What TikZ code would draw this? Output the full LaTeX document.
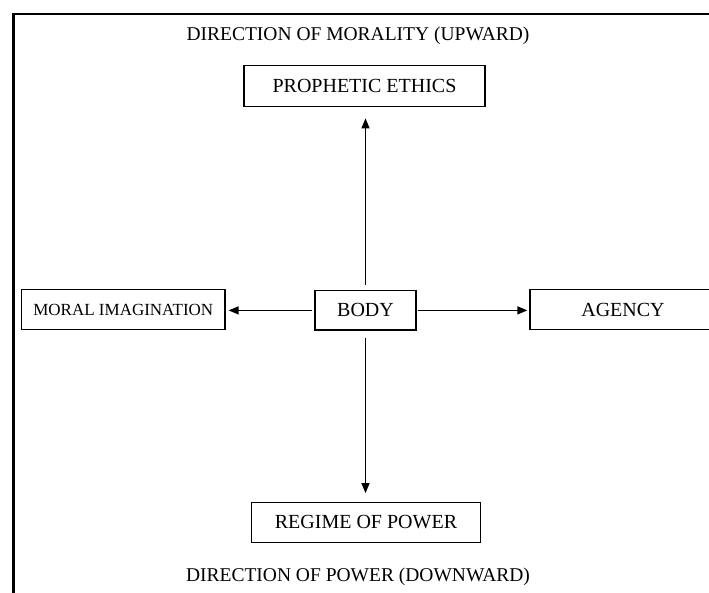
\documentclass[tikz,border=0pt]{standalone}
\usepackage{fontspec}
\setmainfont{Liberation Serif}
\usetikzlibrary{arrows.meta}
\begin{document}
\begin{tikzpicture}[x=1pt,y=1pt,
  box/.style={draw=black, line width=1.3pt, inner sep=0pt, minimum height=39.5pt,
    font=\fontsize{20}{24}\selectfont},
  title/.style={inner sep=0pt, font=\fontsize{19.5}{24}\selectfont},
  conn/.style={line width=1.3pt, -{Triangle[length=10pt,width=8pt]}}]
\useasboundingbox (0,0) rectangle (709,592);
\fill[white] (0,0) rectangle (709,592);
\clip (0,0) rectangle (709,592);
% open frame (left and top edges visible)
\draw[line width=2.2pt] (13.5,-5) -- (13.5,578) -- (720,578);
% titles
\node[title] (ttop) at (358,556) {DIRECTION OF MORALITY (UPWARD)};
\node[title] (tbot) at (358,15) {DIRECTION OF POWER (DOWNWARD)};
% boxes
\node[box, minimum width=241pt, minimum height=41pt] (proph) at (364.5,505.8) {PROPHETIC ETHICS};
\node[box, minimum width=101pt] (body) at (365.5,281.6) {BODY};
\node[box, minimum width=203.3pt, font=\fontsize{17}{20}\selectfont] (moral) at (123.3,282.5) {MORAL IMAGINATION};
\node[box, minimum width=186pt] (agency) at (623,282.5) {AGENCY};
\node[box, minimum width=228.5pt] (regime) at (366,69.5) {REGIME OF POWER};
% connectors
\draw[conn, shorten <=5pt, shorten >=11pt] (body.north) -- (body.north |- proph.south);
\draw[conn, shorten <=7pt, shorten >=9pt] (body.south) -- (body.south |- regime.north);
\draw[conn, shorten <=2pt, shorten >=3pt] (body.west) -- (moral.east |- body.west);
\draw[conn, shorten <=1pt, shorten >=2pt] (body.east) -- (agency.west |- body.east);
\end{tikzpicture}
\end{document}
